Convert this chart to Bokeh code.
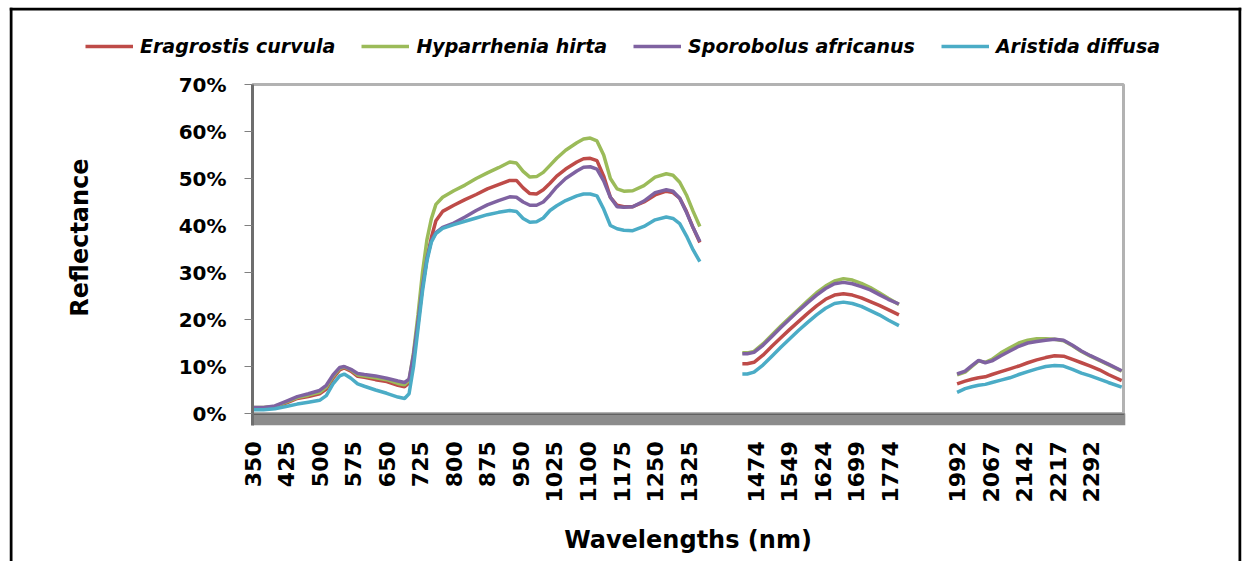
import numpy as np
from bokeh.plotting import figure
from bokeh.models import (ColumnDataSource, Range1d, FixedTicker, PrintfTickFormatter,
                          BoxAnnotation, Span, Legend, LegendItem, LinearAxis)
from bokeh.embed import file_html
from bokeh.resources import INLINE

# ---------------- data ----------------
species = ["Eragrostis curvula", "Hyparrhenia hirta", "Sporobolus africanus", "Aristida diffusa"]
colors = ["#BE4B48", "#9BBB59", "#7F62A1", "#4BACC6"]

# category-axis labels (one label every 75 categories, blanks in the removed bands)
tick_labels = ["350", "425", "500", "575", "650", "725", "800", "875", "950", "1025",
               "1100", "1175", "1250", "1325", "", "1474", "1549", "1624", "1699", "1774",
               "", "1992", "2067", "2142", "2217", "2292"]
CATS_PER_LABEL = 75
N_CATS = 1947          # categories shown on the axis

# segment 1 : VIS / NIR
wl1 = [350, 375, 400, 425, 450, 475, 500, 515, 530, 545, 555, 570, 585, 600, 625, 650, 675, 690,
       700, 710, 720, 730, 740, 750, 760, 775, 800, 825, 850, 875, 900, 925, 940, 955, 970, 985,
       1000, 1015, 1030, 1050, 1075, 1090, 1105, 1120, 1135, 1150, 1165, 1180, 1200, 1225, 1250,
       1275, 1290, 1305, 1320, 1335, 1350]
eragrostis1 = [1.2, 1.2, 1.4, 2.2, 3.2, 3.6, 4.2, 5.2, 7.5, 9.3, 9.7, 9.0, 7.9, 7.7, 7.2, 6.8, 6.0, 5.7,
               6.5, 12.0, 19.0, 27.0, 33.0, 37.5, 41.0, 43.0, 44.3, 45.5, 46.6, 47.8, 48.7, 49.6, 49.6,
               48.0, 46.8, 46.7, 47.6, 49.0, 50.5, 52.0, 53.5, 54.2, 54.3, 53.8, 50.5, 46.0, 44.3, 44.0,
               44.0, 45.0, 46.5, 47.3, 47.0, 45.8, 43.0, 39.5, 36.4]
hyparrhenia1 = [1.3, 1.3, 1.5, 2.4, 3.4, 3.9, 4.5, 5.6, 7.9, 9.6, 9.9, 9.3, 8.2, 8.0, 7.6, 7.2, 6.4, 6.1,
                7.0, 13.0, 21.0, 30.0, 37.0, 41.5, 44.5, 46.0, 47.4, 48.6, 50.0, 51.2, 52.3, 53.5, 53.3,
                51.5, 50.3, 50.4, 51.3, 52.8, 54.3, 56.0, 57.6, 58.4, 58.6, 58.0, 55.0, 50.0, 47.8, 47.3,
                47.4, 48.5, 50.3, 51.0, 50.7, 49.2, 46.5, 43.0, 39.8]
sporobolus1 = [1.3, 1.3, 1.6, 2.6, 3.6, 4.2, 4.9, 6.0, 8.2, 9.8, 10.0, 9.4, 8.5, 8.3, 8.0, 7.5, 6.9, 6.6,
               7.3, 12.5, 19.5, 27.0, 33.0, 36.8, 38.5, 39.6, 40.5, 41.8, 43.2, 44.4, 45.3, 46.1, 46.0,
               45.0, 44.3, 44.3, 45.0, 46.5, 48.2, 50.0, 51.6, 52.4, 52.5, 52.0, 49.5, 46.0, 44.0, 43.9,
               44.0, 45.2, 47.0, 47.6, 47.3, 45.8, 42.8, 39.5, 36.6]
aristida1 = [0.8, 0.8, 1.0, 1.5, 2.0, 2.4, 2.8, 3.8, 6.3, 8.0, 8.4, 7.5, 6.3, 5.8, 5.0, 4.3, 3.5, 3.2,
             4.2, 10.0, 18.0, 26.0, 32.5, 36.5, 38.3, 39.4, 40.2, 40.9, 41.6, 42.3, 42.8, 43.2, 43.0,
             41.5, 40.7, 40.8, 41.6, 43.2, 44.2, 45.3, 46.3, 46.7, 46.7, 46.3, 43.5, 40.0, 39.3, 39.0,
             38.9, 39.8, 41.2, 41.8, 41.5, 40.4, 37.8, 34.8, 32.3]

# segment 2 : SWIR 1
wl2 = [1444, 1455, 1470, 1490, 1510, 1530, 1550, 1570, 1590, 1610, 1630, 1650, 1670, 1690, 1710,
       1730, 1750, 1770, 1794]
eragrostis2 = [10.6, 10.6, 10.9, 12.4, 14.3, 16.1, 17.9, 19.6, 21.3, 22.9, 24.3, 25.2, 25.5, 25.2,
               24.6, 23.8, 23.0, 22.1, 21.0]
hyparrhenia2 = [12.9, 12.9, 13.2, 14.8, 16.7, 18.6, 20.4, 22.2, 24.0, 25.7, 27.1, 28.2, 28.7, 28.4,
                27.7, 26.8, 25.7, 24.5, 23.2]
sporobolus2 = [12.7, 12.7, 13.0, 14.5, 16.4, 18.3, 20.1, 21.9, 23.6, 25.2, 26.6, 27.6, 27.9, 27.6,
               27.0, 26.3, 25.3, 24.3, 23.3]
aristida2 = [8.4, 8.4, 8.8, 10.3, 12.2, 14.1, 15.9, 17.7, 19.4, 21.0, 22.4, 23.4, 23.7, 23.4,
             22.8, 21.9, 21.0, 19.9, 18.7]

# segment 3 : SWIR 2
wl3 = [1992, 2010, 2025, 2040, 2055, 2070, 2090, 2110, 2130, 2150, 2170, 2190, 2210, 2230, 2250,
       2270, 2290, 2310, 2330, 2360]
eragrostis3 = [6.3, 6.9, 7.3, 7.6, 7.8, 8.3, 8.9, 9.5, 10.1, 10.8, 11.4, 11.9, 12.3, 12.2, 11.5,
               10.8, 10.1, 9.3, 8.3, 7.0]
hyparrhenia3 = [8.2, 8.8, 10.0, 11.2, 10.9, 11.5, 12.9, 14.0, 15.0, 15.6, 15.9, 15.9, 15.8, 15.5,
                14.4, 13.2, 12.2, 11.3, 10.4, 9.0]
sporobolus3 = [8.4, 9.0, 10.2, 11.3, 10.8, 11.2, 12.3, 13.3, 14.3, 15.0, 15.3, 15.6, 15.8, 15.6,
               14.5, 13.3, 12.3, 11.4, 10.5, 9.1]
aristida3 = [4.5, 5.3, 5.7, 6.0, 6.2, 6.6, 7.1, 7.6, 8.3, 8.9, 9.5, 10.0, 10.2, 10.1, 9.4, 8.6,
             8.0, 7.3, 6.6, 5.6]

y_ticks = [0, 10, 20, 30, 40, 50, 60, 70]
Y_MAX = 70

series = [
    (eragrostis1, eragrostis2, eragrostis3),
    (hyparrhenia1, hyparrhenia2, hyparrhenia3),
    (sporobolus1, sporobolus2, sporobolus3),
    (aristida1, aristida2, aristida3),
]
segments_wl = [wl1, wl2, wl3]
segment_anchor = ["350", "1474", "1992"]   # labelled wavelength of each segment


def cat_index(wls, anchor):
    slot = tick_labels.index(anchor)
    a = int(anchor)
    return [slot * CATS_PER_LABEL + (w - a) for w in wls]


# ---------------- layout (pixels) ----------------
W, H = 1246, 561
FR_L, FR_R, FR_T = 9, 1241, 7            # outer chart frame
PLOT_L, PLOT_R = 252, 1123               # plot-area left / right
Y_ZERO_PX, Y_TOP_PX = 413, 84            # 0% and 70%
FLOOR = -2.5                             # grey floor depth (in %)

kx = (PLOT_R - PLOT_L) / N_CATS
ky = (Y_ZERO_PX - Y_TOP_PX) / Y_MAX


def px_x(px):
    return (px - PLOT_L) / kx


def px_y(py):
    return (Y_ZERO_PX - py) / ky


p = figure(width=W, height=H, output_backend="svg", toolbar_location=None,
           x_range=Range1d(px_x(FR_L), px_x(FR_R)), y_range=Range1d(px_y(H), px_y(FR_T)),
           min_border_left=FR_L, min_border_right=W - FR_R, min_border_top=FR_T,
           min_border_bottom=0, background_fill_color="white", border_fill_color="white")
p.outline_line_color = None
p.xgrid.visible = False
p.ygrid.visible = False

# outer chart frame (left, top, right; bottom is off-page)
p.add_layout(Span(location=px_x(FR_L + 1.5), dimension="height", line_color="black", line_width=3))
p.add_layout(Span(location=px_y(FR_T + 1.5), dimension="width", line_color="black", line_width=3))
p.add_layout(Span(location=px_x(FR_R - 1.5), dimension="height", line_color="black", line_width=3))

# grey floor and plot-area box
p.add_layout(BoxAnnotation(left=0, right=N_CATS + 4, bottom=FLOOR, top=0, fill_color="#8C8C8C",
                           fill_alpha=1.0, line_alpha=0, level="underlay"))
p.add_layout(BoxAnnotation(left=0, right=N_CATS, bottom=0, top=Y_MAX, fill_alpha=0,
                           line_color="black", line_width=3, level="underlay"))

renderers = []
for name, col, segs in zip(species, colors, series):
    xs, ys = [], []
    for k, (wl, vals) in enumerate(zip(segments_wl, segs)):
        if k > 0:
            xs.append(np.nan)
            ys.append(np.nan)
        xs.extend(cat_index(wl, segment_anchor[k]))
        ys.extend(vals)
    src = ColumnDataSource(dict(x=xs, y=ys))
    r = p.line("x", "y", source=src, line_color=col, line_width=3.5)
    renderers.append(r)

legend = Legend(items=[LegendItem(label=n, renderers=[r]) for n, r in zip(species, renderers)],
                orientation="horizontal", location=(85 - FR_L, 504),
                border_line_color=None, background_fill_alpha=0,
                padding=0, margin=0, spacing=26, glyph_width=48, glyph_height=20,
                label_standoff=7, label_text_font="DejaVu Sans",
                label_text_font_style="bold italic", label_text_font_size="19px",
                label_text_color="black")
p.add_layout(legend, "center")

# x axis (category axis) fixed under the grey floor
xa = p.xaxis[0]
xa.fixed_location = FLOOR
xa.bounds = (0, N_CATS)
xa.ticker = FixedTicker(ticks=[i * CATS_PER_LABEL for i in range(len(tick_labels))])
xa.major_label_overrides = {i * CATS_PER_LABEL: lab for i, lab in enumerate(tick_labels)}
xa.major_label_orientation = np.pi / 2
xa.major_tick_out = 0
xa.major_tick_in = 0
xa.minor_tick_line_color = None
xa.axis_line_color = None
xa.major_label_standoff = 16
xa.major_label_text_font = "DejaVu Sans"
xa.major_label_text_font_style = "bold"
xa.major_label_text_font_size = "22px"
xa.major_label_text_color = "black"
xa.axis_label = "Wavelengths (nm)"
xa.axis_label_text_font = "DejaVu Sans"
xa.axis_label_text_font_style = "bold"
xa.axis_label_text_font_size = "24px"
xa.axis_label_text_color = "black"
xa.axis_label_standoff = 20

# y axis fixed at the plot-area left edge
ya = p.yaxis[0]
ya.fixed_location = 0
ya.bounds = (FLOOR, Y_MAX)
ya.ticker = FixedTicker(ticks=y_ticks)
ya.formatter = PrintfTickFormatter(format="%d%%")
ya.major_tick_out = 8
ya.major_tick_in = 0
ya.major_tick_line_color = "#808080"
ya.minor_tick_line_color = None
ya.axis_line_color = "#6E6E6E"
ya.axis_line_width = 3
ya.major_label_standoff = 18
ya.major_label_text_font = "DejaVu Sans"
ya.major_label_text_font_style = "bold"
ya.major_label_text_font_size = "20px"
ya.major_label_text_color = "black"

# separate axis carrying only the "Reflectance" title
ylab = LinearAxis(fixed_location=0, bounds=(5, Y_MAX), ticker=FixedTicker(ticks=[]),
                  axis_line_color=None, major_tick_line_color=None, minor_tick_line_color=None,
                  major_tick_out=0, minor_tick_out=0,
                  axis_label="Reflectance", axis_label_text_font="DejaVu Sans",
                  axis_label_text_font_style="bold", axis_label_text_font_size="24px",
                  axis_label_text_color="black", axis_label_standoff=159)
p.add_layout(ylab, "left")

open("out.html", "w").write(file_html(p, INLINE))
